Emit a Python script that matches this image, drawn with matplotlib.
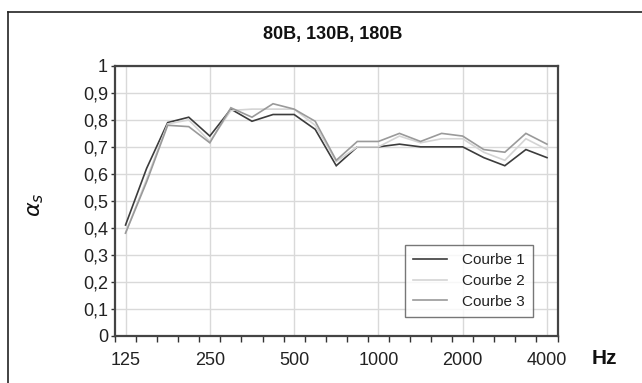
import numpy as np
import matplotlib
matplotlib.use("Agg")
import matplotlib.pyplot as plt
from matplotlib.lines import Line2D

plt.rcParams['font.family'] = ['Liberation Sans', 'DejaVu Sans']

# ---- data ----
freq_labels = ["125", "250", "500", "1000", "2000", "4000"]
n_points = 21
courbe1 = [0.41, 0.62, 0.79, 0.81, 0.74, 0.84, 0.795, 0.82, 0.82, 0.765, 0.63,
           0.70, 0.70, 0.71, 0.70, 0.70, 0.70, 0.66, 0.63, 0.69, 0.66]
courbe2 = [0.38, 0.58, 0.785, 0.80, 0.72, 0.835, 0.84, 0.84, 0.84, 0.78, 0.645,
           0.70, 0.70, 0.74, 0.715, 0.73, 0.73, 0.68, 0.65, 0.73, 0.69]
courbe3 = [0.38, 0.57, 0.78, 0.775, 0.715, 0.845, 0.81, 0.86, 0.84, 0.795, 0.65,
           0.72, 0.72, 0.75, 0.72, 0.75, 0.74, 0.69, 0.68, 0.75, 0.71]
series_names = ["Courbe 1", "Courbe 2", "Courbe 3"]
y_ticks = [0, 0.1, 0.2, 0.3, 0.4, 0.5, 0.6, 0.7, 0.8, 0.9, 1.0]

colors = ["#3c3c3c", "#d4d4d4", "#9a9a9a"]

fig = plt.figure(figsize=(6.42, 3.83), dpi=100)
ax = fig.add_axes([115/642, 1-335.5/383, (557.5-115)/642, (335.5-66)/383])

x = np.arange(n_points)
for vals, c, name in zip([courbe1, courbe2, courbe3], colors, series_names):
    ax.plot(x, vals, color=c, lw=1.2, label=name, solid_joinstyle='miter')

ax.set_xlim(-0.5, n_points - 0.5)
ax.set_ylim(0, 1)

# x ticks: boundaries (major, no labels) + labels (minor)
ax.set_xticks(np.arange(-0.5, n_points, 1))
ax.set_xticklabels([])
label_pos = np.arange(0, n_points, 4)
ax.set_xticks(label_pos, minor=True)
ax.set_xticklabels(freq_labels, minor=True, fontsize=13)
ax.tick_params(axis='x', which='major', direction='out', length=4.5, width=1.0, color='#333333')
ax.tick_params(axis='x', which='minor', length=0, pad=12, labelcolor='#222222')

ax.set_yticks(y_ticks)
ax.set_yticklabels([("%g" % v).replace('.', ',') for v in y_ticks], fontsize=13, color='#222222')
ax.tick_params(axis='y', direction='out', length=3, width=1.0, color='#333333', pad=2)

ax.grid(True, axis='x', which='minor', color='#d9d9d9', lw=1.0)
ax.grid(True, axis='y', which='major', color='#d9d9d9', lw=1.0)
ax.set_axisbelow(True)

for side in ['left', 'bottom', 'top', 'right']:
    ax.spines[side].set_color('#444444')
    ax.spines[side].set_linewidth(1.6)

leg = ax.legend(loc='lower right', bbox_to_anchor=(0.945, 0.068), fontsize=11,
                frameon=True, fancybox=False, edgecolor='#555555',
                handlelength=2.2, handletextpad=1.0, labelspacing=0.45,
                borderpad=0.55, borderaxespad=0)
leg.get_frame().set_linewidth(1.0)
for t in leg.get_texts():
    t.set_color('#222222')

fig.text(333/642, 1-35/383, "80B, 130B, 180B", ha='center', va='center',
         fontsize=13, fontweight='bold', color='#111111')
fig.text(604/642, 1-359/383, "Hz", ha='center', va='center',
         fontsize=15, fontweight='bold', color='#111111')
fig.text(35/642, 1-205/383, r"$\alpha_s$", ha='center', va='center',
         rotation=90, fontsize=16, color='#111111')

# outer frame (extends past right and bottom edge)
fig.add_artist(Line2D([8/642, 8/642], [-0.1, 1-12/383], transform=fig.transFigure,
                      color='#222222', lw=1.2))
fig.add_artist(Line2D([8/642, 1.1], [1-12/383, 1-12/383], transform=fig.transFigure,
                      color='#222222', lw=1.2))

fig.savefig("out.png", dpi=100)
